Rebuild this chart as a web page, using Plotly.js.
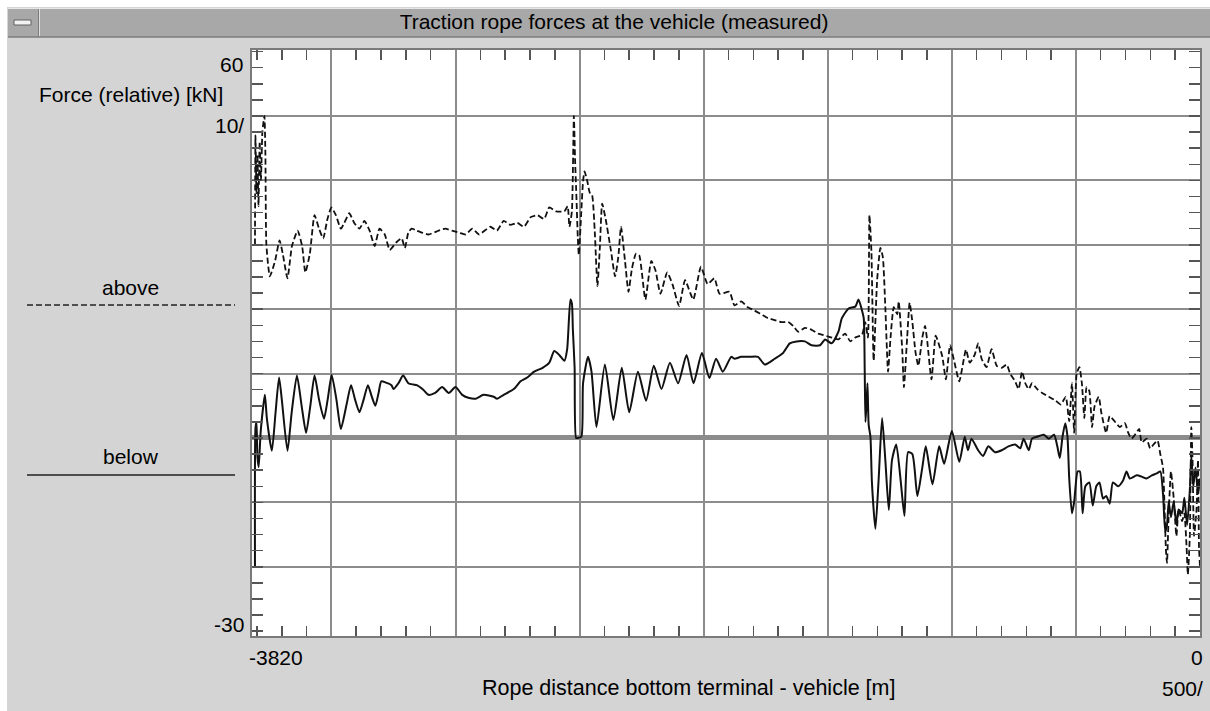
<!DOCTYPE html>
<html><head><meta charset="utf-8">
<script src="https://cdn.plot.ly/plotly-3.0.1.min.js"></script>
<style>html,body{margin:0;padding:0;background:#ffffff;overflow:hidden}#chart{width:1210px;height:711px}</style>
</head><body><div id="chart"></div>
<script>
// ---- data ----
const aboveX = [-3808,-3806,-3802,-3798,-3794,-3789,-3784,-3778,-3770,-3766,-3762,-3748,-3727,-3709,-3696,-3677,-3659,-3636,-3618,-3605,-3587,-3568,-3550,-3533,-3516,-3500,-3482,-3462,-3448,-3428,-3408,-3387,-3367,-3346,-3326,-3306,-3285,-3265,-3238,-3217,-3204,-3190,-3177,-3156,-3136,-3109,-3068,-3041,-3014,-2986,-2959,-2932,-2905,-2860,-2833,-2806,-2779,-2751,-2724,-2697,-2670,-2643,-2622,-2595,-2561,-2548,-2541,-2531,-2523,-2518,-2514,-2507,-2503,-2493,-2486,-2480,-2469,-2459,-2450,-2439,-2428,-2418,-2409,-2395,-2374,-2357,-2344,-2333,-2317,-2303,-2289,-2273,-2260,-2235,-2211,-2194,-2174,-2147,-2126,-2099,-2075,-2042,-2011,-1984,-1957,-1936,-1896,-1876,-1849,-1822,-1795,-1768,-1741,-1714,-1686,-1659,-1639,-1619,-1592,-1565,-1538,-1511,-1484,-1457,-1430,-1409,-1389,-1362,-1349,-1338,-1332,-1324,-1315,-1301,-1288,-1278,-1268,-1257,-1247,-1234,-1220,-1214,-1200,-1193,-1180,-1170,-1159,-1146,-1135,-1119,-1108,-1099,-1082,-1065,-1051,-1038,-1024,-1007,-991,-970,-943,-928,-908,-894,-880,-860,-840,-819,-799,-779,-765,-745,-731,-717,-704,-690,-677,-656,-636,-609,-582,-561,-541,-527,-516,-507,-497,-486,-476,-466,-457,-446,-435,-425,-408,-398,-378,-364,-344,-323,-303,-289,-276,-262,-245,-235,-215,-201,-187,-171,-160,-149,-144,-137,-133,-126,-117,-106,-95,-86,-72,-63,-54,-49,-41,-35,-30,-24,-14,-8,-4,0];
const aboveY = [30.0,47.0,38.0,44.0,36.0,46.0,40.0,47.6,50.0,44.0,30.0,25.1,27.5,30.7,28.6,24.8,29.8,32.2,29.8,25.7,28.6,34.6,32.5,31.0,34.0,35.8,34.6,32.5,33.4,34.9,33.4,32.5,33.7,32.2,29.8,32.5,31.6,29.2,30.4,31.0,29.5,31.9,32.5,32.2,31.9,31.6,32.2,32.5,32.2,31.9,31.6,32.5,31.6,32.8,32.2,33.7,33.1,33.4,32.8,34.3,34.6,34.0,35.8,35.2,35.2,36.0,32.8,35.2,50.0,43.0,38.8,31.0,28.4,35.2,39.9,41.4,39.9,38.1,37.8,32.2,23.6,29.8,36.4,34.0,29.2,25.1,28.1,32.8,27.5,22.7,26.3,28.6,28.4,21.5,27.5,26.0,22.4,25.7,23.9,20.5,24.5,21.5,26.6,23.9,24.8,22.4,22.7,20.6,21.2,20.3,19.8,19.2,18.6,18.3,18.0,18.0,17.4,16.5,17.1,16.8,16.2,15.9,15.6,15.3,16.2,15.0,15.6,16.0,18.0,15.6,34.6,28.9,12.0,24.5,29.5,28.1,20.3,10.3,15.6,20.3,19.2,21.2,13.8,7.9,15.6,21.0,18.0,13.2,11.2,15.6,17.4,15.0,9.1,15.9,14.4,12.6,9.1,14.4,12.0,8.8,13.7,11.7,12.9,14.7,12.3,11.0,13.8,11.2,10.9,11.4,10.0,8.8,7.6,10.3,8.5,7.6,8.5,7.6,7.0,6.4,5.8,5.2,6.4,2.6,8.5,0.8,10.0,11.0,8.5,3.1,7.9,7.3,1.7,4.9,6.4,4.0,0.8,3.4,2.6,1.7,2.3,0.8,-0.1,0.5,1.4,-0.7,-0.1,-1.6,-1.0,-0.4,-2.5,-4.6,-9.3,-17.6,-19.4,-11.7,-5.2,-9.3,-15.2,-11.1,-12.9,-11.7,-17.0,-21.2,-15.2,1.7,-3.4,-15.2,-11.1,-3.4,-17.0,-20.0];

const belowX = [-3808,-3806,-3802,-3798,-3793,-3785,-3768,-3760,-3740,-3725,-3711,-3700,-3677,-3660,-3639,-3620,-3602,-3585,-3568,-3550,-3530,-3515,-3499,-3480,-3462,-3440,-3421,-3405,-3387,-3370,-3353,-3338,-3323,-3310,-3299,-3280,-3258,-3250,-3230,-3211,-3190,-3170,-3156,-3130,-3109,-3082,-3054,-3027,-3000,-2973,-2945,-2918,-2887,-2846,-2833,-2806,-2765,-2738,-2711,-2683,-2649,-2622,-2602,-2582,-2561,-2550,-2537,-2531,-2527,-2520,-2514,-2507,-2493,-2486,-2466,-2452,-2432,-2398,-2364,-2330,-2300,-2265,-2232,-2201,-2170,-2136,-2103,-2069,-2041,-2007,-1977,-1950,-1923,-1889,-1876,-1849,-1815,-1781,-1754,-1714,-1680,-1653,-1626,-1592,-1565,-1531,-1511,-1484,-1457,-1443,-1416,-1389,-1376,-1362,-1355,-1351,-1348,-1344,-1340,-1335,-1328,-1322,-1308,-1295,-1281,-1268,-1254,-1241,-1224,-1207,-1191,-1176,-1159,-1139,-1119,-1105,-1078,-1051,-1031,-1000,-970,-948,-935,-921,-894,-874,-853,-826,-799,-772,-745,-724,-711,-690,-677,-656,-629,-609,-588,-575,-565,-554,-543,-534,-527,-516,-507,-493,-484,-473,-462,-446,-432,-418,-405,-391,-378,-364,-351,-330,-310,-296,-283,-255,-235,-215,-194,-174,-160,-149,-140,-133,-126,-117,-106,-95,-86,-72,-63,-52,-41,-35,-27,-18,-8,0];
const belowY = [-20.0,1.5,2.5,-3.0,-4.5,1.0,6.7,3.0,-2.0,4.0,9.4,6.0,-2.0,4.0,9.7,5.0,0.8,5.0,9.7,6.0,3.0,6.0,9.8,6.0,1.4,5.0,8.2,6.0,4.0,6.0,8.2,6.5,5.0,7.0,8.8,8.6,8.2,7.6,8.5,9.7,8.5,8.3,8.2,7.5,6.7,7.0,7.9,7.0,7.9,6.7,6.2,6.1,6.7,6.4,6.1,6.7,7.6,8.8,9.4,10.3,10.9,11.7,13.5,12.9,12.0,13.8,21.5,20.9,16.8,10.9,0.0,0.0,0.2,8.5,12.6,10.3,1.7,11.4,2.8,10.9,4.0,10.3,5.8,11.2,7.6,11.7,8.5,12.9,8.5,13.2,9.3,12.3,10.3,12.6,12.3,12.6,12.6,12.6,11.4,12.3,13.2,14.7,15.0,15.0,14.4,14.4,15.3,14.7,16.5,18.6,20.1,20.4,21.5,19.8,18.6,10.3,2.5,5.0,8.5,2.0,0.2,-6.9,-14.1,-6.5,3.1,-3.4,-11.2,-3.4,-1.0,-6.3,-12.1,-2.2,-2.5,-9.0,-4.6,-1.3,-7.2,-1.3,-4.0,1.1,-3.7,0.2,-1.9,-0.1,-1.9,-2.8,-1.3,-2.2,-1.9,-1.3,-1.0,-1.6,-0.1,-1.9,-0.1,0.2,0.5,-0.1,0.5,-1.3,-3.1,0.2,2.3,0.2,-6.3,-11.7,-9.9,-5.2,-5.2,-11.7,-7.5,-6.9,-10.5,-7.5,-6.9,-9.4,-9.0,-10.2,-6.9,-7.5,-6.6,-5.2,-6.3,-5.8,-6.0,-6.3,-5.8,-5.5,-5.2,-8.7,-14.6,-13.5,-9.9,-12.3,-9.9,-13.5,-11.1,-11.7,-9.3,-13.5,-8.1,-2.8,-7.5,-4.6,-8.7,-6.3];

const seriesNames = ['above', 'below'];
const xTickLabels = ['-3820', '0'];
const yTickLabels = ['60', '10/', '-30'];
const xScaleLabel = '500/';
const chartTitle = 'Traction rope forces at the vehicle (measured)';
const xTitle = 'Rope distance bottom terminal - vehicle [m]';
const yTitle = 'Force (relative) [kN]';

// ---- layout geometry (pixels) ----
const W = 1210, H = 711, PL = 252, PR = 1200, PT = 50, PB = 636;
const px = v => (v - PL) / (PR - PL);
const py = v => (PB - v) / (PB - PT);
const FONT = 'Liberation Sans, Arial, sans-serif';
const GRID = '#8c8c8c';

function ann(text, x, y, xanchor, size) {
  return {text: text, xref: 'paper', yref: 'paper', x: px(x), y: py(y), xanchor: xanchor,
    yanchor: 'middle', showarrow: false, borderpad: 0, borderwidth: 0,
    font: {family: FONT, size: size || 21, color: '#000'}};
}

const traces = [
  {x: aboveX, y: aboveY, name: seriesNames[0], type: 'scatter', mode: 'lines',
   line: {color: '#111', width: 1.8, dash: '6px,3px', shape: 'spline', smoothing: 0.5}, hoverinfo: 'skip'},
  {x: belowX, y: belowY, name: seriesNames[1], type: 'scatter', mode: 'lines',
   line: {color: '#111', width: 2, shape: 'spline', smoothing: 0.6}, hoverinfo: 'skip'}
];

const layout = {
  width: W, height: H,
  margin: {l: PL, r: W - PR, t: PT, b: H - PB, pad: 0},
  paper_bgcolor: '#ffffff', plot_bgcolor: 'rgba(0,0,0,0)',
  showlegend: false, hovermode: false,
  font: {family: FONT, size: 21, color: '#000'},
  title: {text: chartTitle, xref: 'container', yref: 'container', x: 614 / W, y: 1 - 22 / H,
    xanchor: 'center', yanchor: 'middle', font: {family: FONT, size: 21, color: '#000'}},
  xaxis: {range: [-3820, 0], tickmode: 'linear', tick0: 0, dtick: 500, ticks: '',
    showticklabels: false, showgrid: true, gridcolor: GRID, gridwidth: 2, zeroline: false,
    showline: true, linecolor: '#7a7a7a', linewidth: 2, mirror: 'allticks',
    minor: {tickmode: 'linear', tick0: 0, dtick: 100, ticks: 'inside', ticklen: 10,
      tickwidth: 1.5, tickcolor: '#555', showgrid: false}},
  yaxis: {range: [-30.75, 60.25], tickmode: 'array', tickvals: [-20, -10, 0, 10, 20, 30, 40, 50],
    ticks: '', showticklabels: false, showgrid: true, gridcolor: GRID, gridwidth: 2,
    zeroline: true, zerolinecolor: GRID, zerolinewidth: 5,
    showline: true, linecolor: '#7a7a7a', linewidth: 2, mirror: 'allticks',
    minor: {tickmode: 'linear', tick0: 0, dtick: 2.5, ticks: 'inside', ticklen: 11,
      tickwidth: 1.5, tickcolor: '#555', showgrid: false}},
  shapes: [
    {type: 'rect', layer: 'below', xref: 'paper', yref: 'paper', x0: px(7), x1: px(1212), y0: py(7), y1: py(713),
     fillcolor: '#d4d4d4', line: {width: 0}},
    {type: 'rect', layer: 'below', xref: 'paper', yref: 'paper', x0: px(8), x1: px(1212), y0: py(8), y1: py(37),
     fillcolor: '#a8a8a8', line: {width: 0}},
    {type: 'line', layer: 'below', xref: 'paper', yref: 'paper', x0: px(8), x1: px(1212), y0: py(8.5), y1: py(8.5),
     line: {color: '#e6e6e6', width: 1}},
    {type: 'line', layer: 'below', xref: 'paper', yref: 'paper', x0: px(8), x1: px(1212), y0: py(37), y1: py(37),
     line: {color: '#7c7c7c', width: 1.5}},
    {type: 'line', layer: 'below', xref: 'paper', yref: 'paper', x0: px(38.5), x1: px(38.5), y0: py(9), y1: py(36),
     line: {color: '#7c7c7c', width: 1}},
    {type: 'line', layer: 'below', xref: 'paper', yref: 'paper', x0: px(39.5), x1: px(39.5), y0: py(9), y1: py(36),
     line: {color: '#e0e0e0', width: 1}},
    {type: 'rect', layer: 'below', xref: 'paper', yref: 'paper', x0: px(14), x1: px(31), y0: py(20), y1: py(25),
     fillcolor: '#f2f2f2', line: {color: '#606060', width: 1}},
    {type: 'rect', layer: 'below', xref: 'paper', yref: 'paper', x0: 0, x1: 1, y0: 0, y1: 1,
     fillcolor: '#ffffff', line: {width: 0}},
    {type: 'line', xref: 'paper', yref: 'paper', x0: px(27), x1: px(235), y0: py(305), y1: py(305),
     line: {color: '#222', width: 1.6, dash: '6px,3px'}},
    {type: 'line', xref: 'paper', yref: 'paper', x0: px(27), x1: px(235), y0: py(475), y1: py(475),
     line: {color: '#222', width: 1.6}}
  ],
  annotations: [
    ann(yTickLabels[0], 243, 64, 'right'),
    ann(yTitle, 223, 94, 'right'),
    ann(yTickLabels[1], 244, 125, 'right'),
    ann(yTickLabels[2], 244, 624, 'right'),
    ann(seriesNames[0], 130, 287.5, 'center'),
    ann(seriesNames[1], 131, 456.7, 'center'),
    ann(xTickLabels[0], 249, 657.5, 'left'),
    ann(xTickLabels[1], 1203, 657.5, 'right'),
    ann(xTitle, 688.5, 688, 'center', 21.5),
    ann(xScaleLabel, 1203, 688, 'right')
  ]
};

Plotly.newPlot('chart', traces, layout, {staticPlot: true, displayModeBar: false});
</script></body></html>
